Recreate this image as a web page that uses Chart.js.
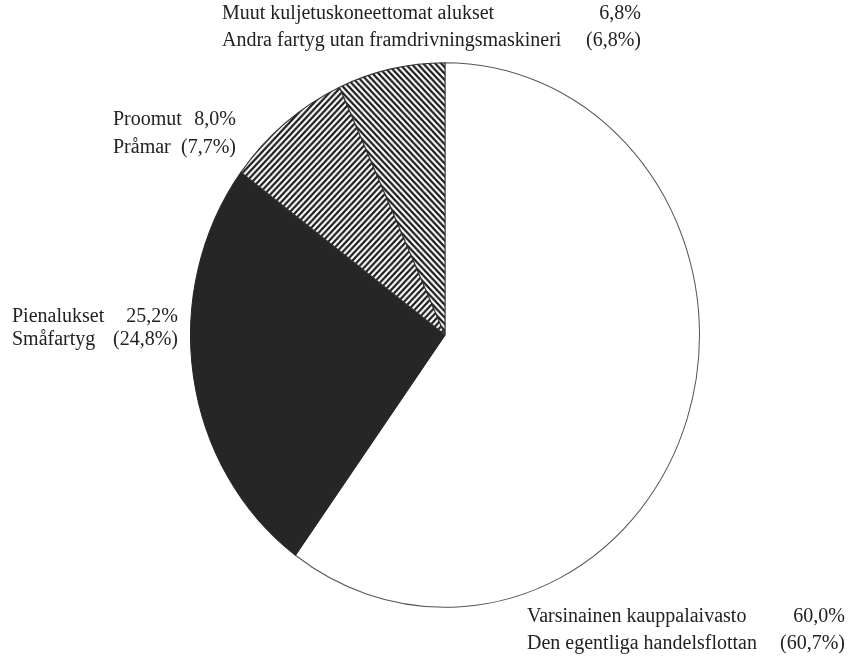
<!DOCTYPE html>
<html>
<head>
<meta charset="utf-8">
<script src="https://cdn.jsdelivr.net/npm/chart.js@4/dist/chart.umd.min.js"></script>
<style>
  html, body { margin: 0; padding: 0; background: #fff; }
  #wrap { width: 857px; height: 659px; }
</style>
</head>
<body>
<div id="wrap"><canvas id="pieChart" width="857" height="659"></canvas></div>
<script>
// Finnish / Swedish category names and their shares (%)
const namesFi = ['Varsinainen kauppalaivasto', 'Pienalukset', 'Proomut', 'Muut kuljetuskoneettomat alukset'];
const namesSv = ['Den egentliga handelsflottan', 'Småfartyg', 'Pråmar', 'Andra fartyg utan framdrivningsmaskineri'];
const sharesFi = [60.0, 25.2, 8.0, 6.8];
const sharesSv = [60.7, 24.8, 7.7, 6.8];

const fmt = v => v.toFixed(1).replace('.', ',') + '%';

// diagonal hatch fill
function hatch(dir) {
    const s = 6;
    const c = document.createElement('canvas');
    c.width = s; c.height = s;
    const g = c.getContext('2d');
    g.fillStyle = '#fff';
    g.fillRect(0, 0, s, s);
    g.strokeStyle = '#1e1e1e';
    g.lineWidth = 2.2;
    g.beginPath();
    if (dir === '/') {
        g.moveTo(0, s); g.lineTo(s, 0);
        g.moveTo(-1, 1); g.lineTo(1, -1);
        g.moveTo(s - 1, s + 1); g.lineTo(s + 1, s - 1);
    } else {
        g.moveTo(0, 0); g.lineTo(s, s);
        g.moveTo(-1, s - 1); g.lineTo(1, s + 1);
        g.moveTo(s - 1, -1); g.lineTo(s + 1, 1);
    }
    g.stroke();
    return g.createPattern(c, 'repeat');
}

const ctx = document.getElementById('pieChart').getContext('2d');

// stretch the pie a little vertically (the original is an ellipse)
const stretch = {
    id: 'stretch',
    beforeDatasetsDraw(chart) {
        const a = chart.chartArea;
        const cx = (a.left + a.right) / 2, cy = (a.top + a.bottom) / 2;
        chart.ctx.save();
        chart.ctx.translate(cx, cy);
        chart.ctx.scale(1, 1.07);
        chart.ctx.translate(-cx, -cy);
    },
    afterDatasetsDraw(chart) {
        chart.ctx.restore();
    }
};

// label positions: [x of name, x right edge of value, baseline line 1, baseline line 2]
const labelPos = [
    [527, 845, 622, 649],
    [12, 178, 322, 345],
    [113, 236, 125, 153],
    [222, 641, 19, 46]
];

const labels = {
    id: 'labels',
    afterDraw(chart) {
        const c = chart.ctx;
        c.save();
        c.font = '20px "Liberation Serif", "Times New Roman", serif';
        c.fillStyle = '#222';
        c.textBaseline = 'alphabetic';
        labelPos.forEach((p, i) => {
            c.textAlign = 'left';
            c.fillText(namesFi[i], p[0], p[2]);
            c.fillText(namesSv[i], p[0], p[3]);
            c.textAlign = 'right';
            c.fillText(fmt(sharesFi[i]), p[1], p[2]);
            c.fillText('(' + fmt(sharesSv[i]) + ')', p[1], p[3]);
        });
        c.restore();
    }
};

new Chart(ctx, {
    type: 'pie',
    data: {
        labels: namesFi,
        datasets: [{
            data: sharesFi,
            backgroundColor: ['#ffffff', '#262626', hatch('/'), hatch('\\')],
            borderColor: ['#555', '#262626', '#333', '#333'],
            borderWidth: 1,
        }],
    },
    options: {
        responsive: false,
        animation: false,
        layout: {
            padding: { left: 190, right: 157, top: 80, bottom: 69 },
        },
        plugins: {
            legend: { display: false },
            tooltip: { enabled: false },
        },
    },
    plugins: [stretch, labels],
});
</script>
</body>
</html>
